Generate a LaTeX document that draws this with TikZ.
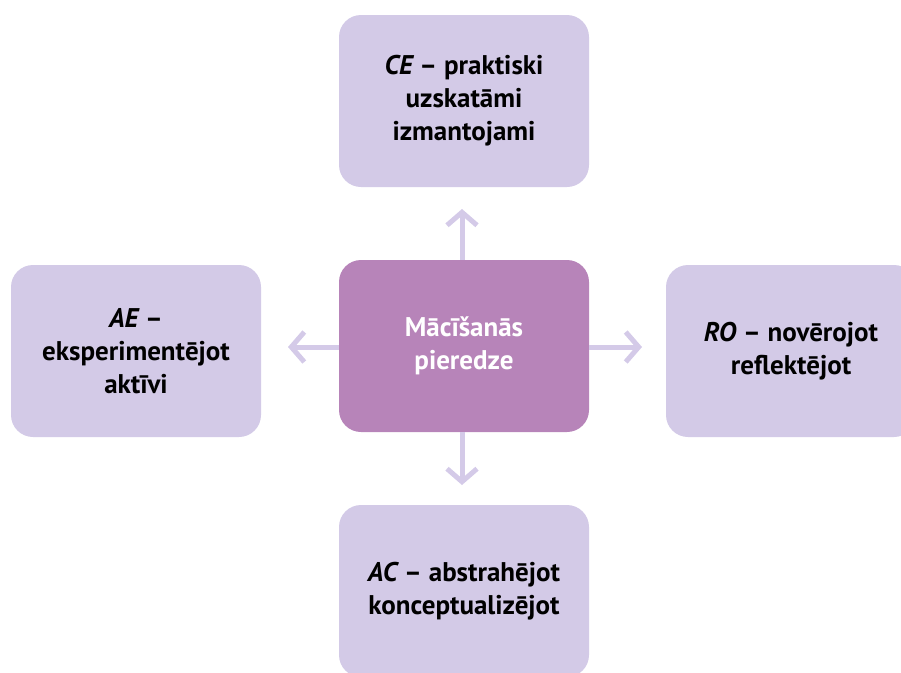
\documentclass[tikz,border=0pt]{standalone}
\usepackage{fontspec}
\setmainfont{PT Sans}
\usetikzlibrary{arrows.meta}
\definecolor{boxlilac}{HTML}{D3CAE7}
\definecolor{midmauve}{HTML}{B784B9}
\definecolor{arrowlilac}{HTML}{D4CAE8}
\begin{document}
\begin{tikzpicture}[x=1pt,y=-1pt,
  every node/.style={font=\bfseries\fontsize{27}{33}\selectfont, align=center},
  stage/.style={fill=boxlilac, rounded corners=22pt, minimum width=250pt, minimum height=172pt, text=black},
  core/.style={stage, fill=midmauve, text=white},
  flow/.style={draw=arrowlilac, line width=5pt, -{Straight Barb[length=13pt,width=30pt]}}]
\useasboundingbox (0,0) rectangle (901,672);

% the centre and the four modes round it
\node [core] (mid) at (464,346) {Mācīšanās\\pieredze};
\node [stage] (ce) at (464,101) {{\itshape CE} – praktiski\\uzskatāmi\\izmantojami};
\node [stage] (ae) at (136,351) {{\itshape AE} –\\eksperimentējot\\aktīvi};
\node [stage] (ro) at (791,351) {{\itshape RO} – novērojot\\reflektējot};
\node [stage] (ac) at (464,591) {{\itshape AC} – abstrahējot\\konceptualizējot};

% free ends of the arrows
\coordinate (upend) at (462,209);
\coordinate (leftend) at (288,347);
\coordinate (rightend) at (642,347);
\coordinate (downend) at (462,485);

\draw [flow] (mid.north -| upend) -- (upend);
\draw [flow] (mid.west |- leftend) -- (leftend);
\draw [flow] (mid.east |- rightend) -- (rightend);
\draw [flow] (mid.south -| downend) -- (downend);
\end{tikzpicture}
\end{document}
